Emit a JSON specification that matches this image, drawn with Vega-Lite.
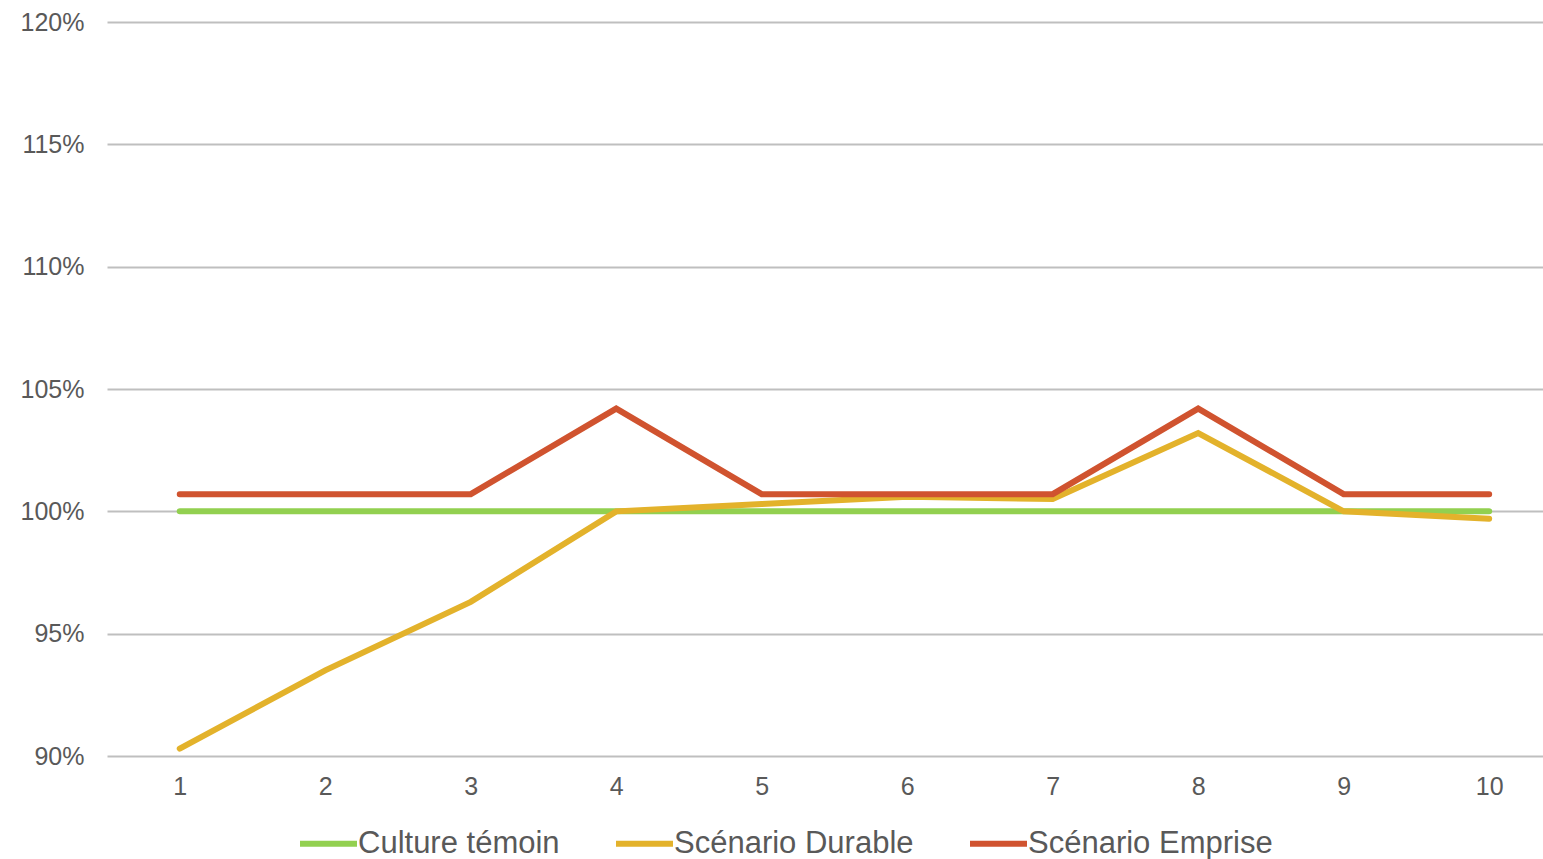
{
  "$schema": "https://vega.github.io/schema/vega-lite/v6.json",
  "width": 1436,
  "height": 734,
  "autosize": {"type": "none"},
  "padding": {"left": 107, "top": 22, "right": 0, "bottom": 103},
  "background": "white",
  "config": {
    "view": {"stroke": null},
    "font": "Liberation Sans"
  },
  "data": {
    "values": [
      {"x": 1, "s": "Culture témoin", "v": 1.0},
      {"x": 2, "s": "Culture témoin", "v": 1.0},
      {"x": 3, "s": "Culture témoin", "v": 1.0},
      {"x": 4, "s": "Culture témoin", "v": 1.0},
      {"x": 5, "s": "Culture témoin", "v": 1.0},
      {"x": 6, "s": "Culture témoin", "v": 1.0},
      {"x": 7, "s": "Culture témoin", "v": 1.0},
      {"x": 8, "s": "Culture témoin", "v": 1.0},
      {"x": 9, "s": "Culture témoin", "v": 1.0},
      {"x": 10, "s": "Culture témoin", "v": 1.0},
      {"x": 1, "s": "Scénario Durable", "v": 0.903},
      {"x": 2, "s": "Scénario Durable", "v": 0.935},
      {"x": 3, "s": "Scénario Durable", "v": 0.963},
      {"x": 4, "s": "Scénario Durable", "v": 1.0},
      {"x": 5, "s": "Scénario Durable", "v": 1.003},
      {"x": 6, "s": "Scénario Durable", "v": 1.006},
      {"x": 7, "s": "Scénario Durable", "v": 1.005},
      {"x": 8, "s": "Scénario Durable", "v": 1.032},
      {"x": 9, "s": "Scénario Durable", "v": 1.0},
      {"x": 10, "s": "Scénario Durable", "v": 0.997},
      {"x": 1, "s": "Scénario Emprise", "v": 1.007},
      {"x": 2, "s": "Scénario Emprise", "v": 1.007},
      {"x": 3, "s": "Scénario Emprise", "v": 1.007},
      {"x": 4, "s": "Scénario Emprise", "v": 1.042},
      {"x": 5, "s": "Scénario Emprise", "v": 1.007},
      {"x": 6, "s": "Scénario Emprise", "v": 1.007},
      {"x": 7, "s": "Scénario Emprise", "v": 1.007},
      {"x": 8, "s": "Scénario Emprise", "v": 1.042},
      {"x": 9, "s": "Scénario Emprise", "v": 1.007},
      {"x": 10, "s": "Scénario Emprise", "v": 1.007}
    ]
  },
  "mark": {"type": "line", "strokeWidth": 6, "strokeCap": "round", "strokeJoin": "miter"},
  "encoding": {
    "x": {
      "field": "x",
      "type": "quantitative",
      "scale": {"domain": [0.5, 10.37], "nice": false, "zero": false},
      "axis": {
        "values": [1, 2, 3, 4, 5, 6, 7, 8, 9, 10],
        "title": null,
        "grid": false,
        "domain": false,
        "ticks": false,
        "labelFontSize": 25,
        "labelColor": "#595959",
        "labelPadding": 18,
        "labelFlush": false
      }
    },
    "y": {
      "field": "v",
      "type": "quantitative",
      "scale": {"domain": [0.9, 1.2], "nice": false, "zero": false},
      "axis": {
        "values": [0.9, 0.95, 1.0, 1.05, 1.1, 1.15, 1.2],
        "format": ".0%",
        "title": null,
        "domain": false,
        "ticks": false,
        "gridColor": "#BFBFBF",
        "gridWidth": 2,
        "labelFontSize": 25,
        "labelColor": "#595959",
        "labelPadding": 23
      }
    },
    "color": {
      "field": "s",
      "type": "nominal",
      "scale": {
        "domain": ["Culture témoin", "Scénario Durable", "Scénario Emprise"],
        "range": ["#92D050", "#E3B22B", "#D0532F"]
      },
      "legend": {
        "title": null,
        "orient": "none",
        "legendX": 190,
        "legendY": 790,
        "direction": "horizontal",
        "symbolType": "stroke",
        "symbolStrokeWidth": 6,
        "symbolSize": 3249,
        "labelFontSize": 31,
        "labelLimit": 0,
        "labelColor": "#595959",
        "labelOffset": -2,
        "columnPadding": 44
      }
    },
    "order": {"field": "s"}
  }
}
